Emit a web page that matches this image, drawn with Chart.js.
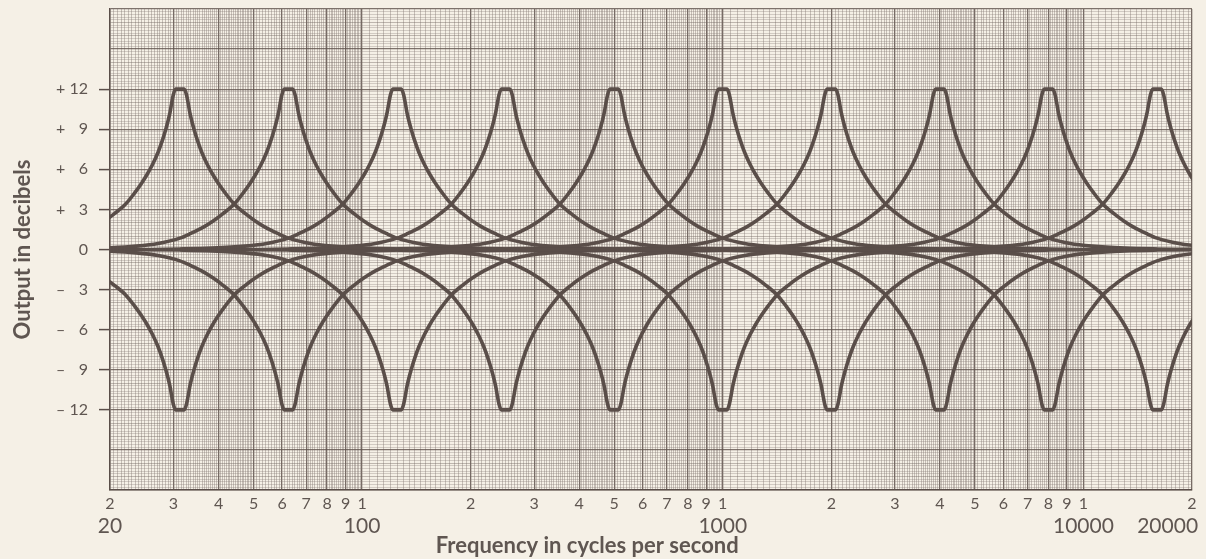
<!DOCTYPE html>
<html>
<head>
<meta charset="utf-8">
<script src="https://cdn.jsdelivr.net/npm/chart.js@4.4.1/dist/chart.umd.min.js"></script>
<style>
    html, body { margin: 0; padding: 0; background: #f5f0e6; }
    #wrap { width: 1206px; height: 559px; }
</style>
</head>
<body>
<div id="wrap"><canvas id="eqChart" width="1206" height="559"></canvas></div>
<script>
    // band centre frequencies (Hz)
    var bandCenters = [31.25, 62.5, 125, 250, 500, 1000, 2000, 4000, 8000, 16000];

    // one band's response: distance from centre (octaves) -> dB
    var profileOctaves = [0, 0.04, 0.06, 0.075, 0.09, 0.11, 0.13, 0.16, 0.2, 0.25, 0.3, 0.35, 0.42, 0.5, 0.6, 0.7, 0.8, 0.9, 1.0, 1.2, 1.4, 1.7, 2.0, 2.5, 3.0];
    var boostDb = [12, 12, 11.6, 11.0, 10.3, 9.6, 9.0, 8.2, 7.3, 6.4, 5.65, 5.0, 4.2, 3.4, 2.7, 2.1, 1.6, 1.2, 0.85, 0.45, 0.25, 0.1, 0.04, 0, 0];
    var cutDb = [-12, -12, -11.6, -11.0, -10.3, -9.6, -9.0, -8.2, -7.3, -6.4, -5.65, -5.0, -4.2, -3.4, -2.7, -2.1, -1.6, -1.2, -0.85, -0.45, -0.25, -0.1, -0.04, 0, 0];

    // axis ticks
    var yTickValues = [12, 9, 6, 3, 0, -3, -6, -9, -12];
    var yTickLabels = ['+ 12', '+ \u20079', '+ \u20076', '+ \u20073', '0', '\u2013 \u20073', '\u2013 \u20076', '\u2013 \u20079', '\u2013 12'];
    var xDigitValues = [20, 30, 40, 50, 60, 70, 80, 90, 100, 200, 300, 400, 500, 600, 700, 800, 900, 1000,
        2000, 3000, 4000, 5000, 6000, 7000, 8000, 9000, 10000, 20000];
    var xDigitLabels = ['2', '3', '4', '5', '6', '7', '8', '9', '1', '2', '3', '4', '5', '6', '7', '8', '9', '1',
        '2', '3', '4', '5', '6', '7', '8', '9', '1', '2'];
    var xBigValues = [20, 100, 1000, 10000, 20000];
    var xBigLabels = ['20', '100', '1000', '10000', '20000\u2007\u2007\u2007\u2007'];

    var INK = '#5a4e49';
    var TEXT = '#5f5651';
    var FONT = 'Lato, "Open Sans", sans-serif';

    function near(a, b) { return Math.abs(a - b) < 1e-6 * Math.max(1, Math.abs(b)); }
    function indexIn(list, v) {
        for (var i = 0; i < list.length; i++) if (near(list[i], v)) return i;
        return -1;
    }

    // log graph paper rulings
    function xGridValues() {
        var out = [];
        [10, 100, 1000, 10000].forEach(function (d) {
            for (var k = 100; k <= 1000; k++) {
                var keep = k < 500 ? (k % 5 === 0) : (k % 10 === 0);
                if (!keep) continue;
                var v = k * d / 100;
                if (v >= 20 && v <= 20000 && indexIn(out, v) < 0) out.push(v);
            }
        });
        return out.sort(function (a, b) { return a - b; });
    }
    function yGridValues() {
        var out = [];
        for (var i = -90; i <= 90; i++) out.push(i / 5);
        return out;
    }
    function isMajorX(v) {
        var d = Math.pow(10, Math.floor(Math.log10(v) + 1e-9));
        var m = v / d;
        return Math.abs(m - Math.round(m)) < 1e-6;
    }

    function bandSeries(center, values) {
        var pts = [];
        for (var i = profileOctaves.length - 1; i > 0; i--) {
            pts.push({ x: center * Math.pow(2, -profileOctaves[i]), y: values[i] });
        }
        for (var j = 0; j < profileOctaves.length; j++) {
            pts.push({ x: center * Math.pow(2, profileOctaves[j]), y: values[j] });
        }
        return pts;
    }

    function buildDatasets() {
        var sets = [];
        bandCenters.forEach(function (c) {
            [boostDb, cutDb].forEach(function (vals) {
                sets.push({
                    data: bandSeries(c, vals),
                    borderColor: INK,
                    borderWidth: 3.6,
                    pointRadius: 0,
                    fill: false,
                    tension: 0.4,
                    cubicInterpolationMode: 'monotone',
                    clip: 0
                });
            });
        });
        return sets;
    }

    var ctx = document.getElementById('eqChart').getContext('2d');
    new Chart(ctx, {
        type: 'line',
        data: { datasets: buildDatasets() },
        options: {
            responsive: false,
            animation: false,
            events: [],
            layout: { padding: { left: 0, top: 9, right: 14, bottom: 0 } },
            plugins: { legend: { display: false }, tooltip: { enabled: false } },
            scales: {
                x: {
                    type: 'logarithmic',
                    position: 'bottom',
                    weight: 0,
                    min: 20,
                    max: 20000,
                    afterBuildTicks: function (scale) {
                        scale.ticks = xGridValues().map(function (v) { return { value: v }; });
                    },
                    afterFit: function (scale) {
                        scale.height = 24;
                        scale.paddingLeft = 0;
                        scale.paddingRight = 0;
                    },
                    border: { display: true, color: INK, width: 1.5 },
                    grid: {
                        drawTicks: false,
                        color: function (c) {
                            return c.tick && isMajorX(c.tick.value) ? 'rgba(95,82,76,0.85)' : 'rgba(120,108,104,0.55)';
                        },
                        lineWidth: function (c) {
                            return c.tick && isMajorX(c.tick.value) ? 1.3 : 0.7;
                        }
                    },
                    ticks: {
                        autoSkip: false,
                        maxRotation: 0,
                        padding: 4,
                        color: TEXT,
                        font: { family: FONT, size: 16 },
                        callback: function (value) {
                            var i = indexIn(xDigitValues, value);
                            return i < 0 ? '' : xDigitLabels[i];
                        }
                    }
                },
                x2: {
                    type: 'logarithmic',
                    position: 'bottom',
                    weight: 1,
                    min: 20,
                    max: 20000,
                    afterBuildTicks: function (scale) {
                        scale.ticks = xBigValues.map(function (v) { return { value: v }; });
                    },
                    afterFit: function (scale) {
                        scale.height = 45;
                        scale.paddingLeft = 0;
                        scale.paddingRight = 0;
                    },
                    border: { display: false },
                    grid: { display: false, drawTicks: false },
                    ticks: {
                        autoSkip: false,
                        maxRotation: 0,
                        padding: 0,
                        color: TEXT,
                        font: { family: FONT, size: 21 },
                        callback: function (value) {
                            var i = indexIn(xBigValues, value);
                            return i < 0 ? '' : xBigLabels[i];
                        }
                    },
                    title: {
                        display: true,
                        text: 'Frequency in cycles per second' + '\u2007'.repeat(10),
                        color: TEXT,
                        font: { family: FONT, size: 22, weight: 'bold' },
                        padding: { top: -4, bottom: 0 }
                    }
                },
                y: {
                    type: 'linear',
                    min: -18,
                    max: 18,
                    afterBuildTicks: function (scale) {
                        scale.ticks = yGridValues().map(function (v) { return { value: v }; });
                    },
                    afterFit: function (scale) {
                        scale.width = 110;
                        scale.paddingTop = 0;
                        scale.paddingBottom = 0;
                    },
                    border: { display: true, color: INK, width: 1.5 },
                    grid: {
                        tickLength: 11,
                        tickColor: function (c) {
                            return c.tick && indexIn(yTickValues, c.tick.value) >= 0 ? INK : 'rgba(0,0,0,0)';
                        },
                        tickWidth: 1.5,
                        color: function (c) {
                            if (!c.tick) return 'rgba(0,0,0,0)';
                            var v = Math.round(c.tick.value * 5);
                            if (v % 15 === 0) return 'rgba(95,82,76,0.8)';
                            if (v % 5 === 0) return 'rgba(110,98,94,0.6)';
                            return 'rgba(130,118,114,0.45)';
                        },
                        lineWidth: function (c) {
                            if (!c.tick) return 0;
                            var v = Math.round(c.tick.value * 5);
                            return v % 15 === 0 ? 1.2 : 0.7;
                        }
                    },
                    ticks: {
                        autoSkip: false,
                        padding: 11,
                        color: TEXT,
                        font: { family: FONT, size: 16 },
                        callback: function (value) {
                            var i = indexIn(yTickValues, value);
                            return i < 0 ? '' : yTickLabels[i];
                        }
                    },
                    title: {
                        display: true,
                        text: 'Output in decibels',
                        color: TEXT,
                        font: { family: FONT, size: 22, weight: 'bold' },
                        padding: { top: 10, bottom: 0 }
                    }
                }
            }
        }
    });
</script>
</body>
</html>
